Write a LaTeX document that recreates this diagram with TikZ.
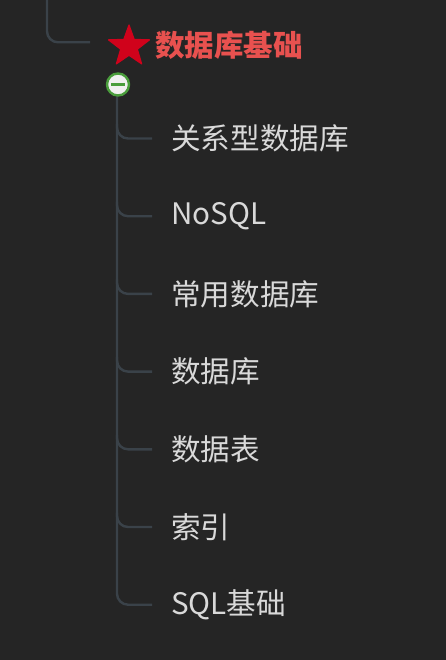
\documentclass[tikz,border=0pt]{standalone}
\usepackage{fontspec}
\setmainfont{Noto Sans CJK SC}
\usetikzlibrary{shapes.geometric}

\definecolor{bg}{HTML}{252525}
\definecolor{branch}{HTML}{3A4249}
\definecolor{topicred}{HTML}{E8514F}
\definecolor{starred}{HTML}{D0021B}
\definecolor{leaftext}{HTML}{D9D9D9}
\definecolor{foldgreen}{HTML}{4A9D3C}

\tikzset{
    link/.style={branch, line width=2.4pt, rounded corners=11pt},
    leaf/.style={anchor=west, inner sep=0pt, text=leaftext, font=\fontsize{29.6}{31}\selectfont},
}

\begin{document}
\begin{tikzpicture}[x=1pt,y=-1pt]
            \fill[bg] (0,0) rectangle (446,660);
            \useasboundingbox (0,0) rectangle (446,660);

            % link from the parent
            \coordinate (up) at (47,0);
            \coordinate (hub) at (90,42.3);
            \draw[link] (up) |- (hub);

            % topic
            \node[star, star points=5, star point ratio=2.45, minimum size=43pt,
                  inner sep=0pt, fill=starred, draw=starred, line width=1.2pt,
                  line join=round] (star) at (129,46.5) {};
            \node[anchor=west, inner sep=0pt, text=topicred,
                  font=\fontsize{29.5}{31}\selectfont\bfseries] (topic) at (155,45) {数据库基础};

            % children
            \foreach \i/\txt in {0/关系型数据库,1/NoSQL,2/常用数据库,3/数据库,4/数据表,5/索引,6/SQL基础}
                {\node[leaf] (c\i) at (171,138.5+77.7*\i) {\txt};}

            % trunk and branches
            \coordinate (fold) at (117,84.5);
            \draw[link, shorten >=19pt] (fold) |- (c6.west);
            \foreach \i in {0,...,5}
                {\coordinate (j\i) at (117,124+77.7*\i);
                 \draw[link, shorten >=19pt] (j\i) |- (c\i.west);}

            % fold button
            \node[circle, minimum size=22pt, inner sep=0pt, fill=white!94!black,
                  draw=foldgreen, line width=2.4pt] (btn) at (118,84.5) {};
            \draw[foldgreen, line width=2.6pt] ([xshift=-7pt]btn.center) -- ([xshift=7pt]btn.center);
\end{tikzpicture}
\end{document}
